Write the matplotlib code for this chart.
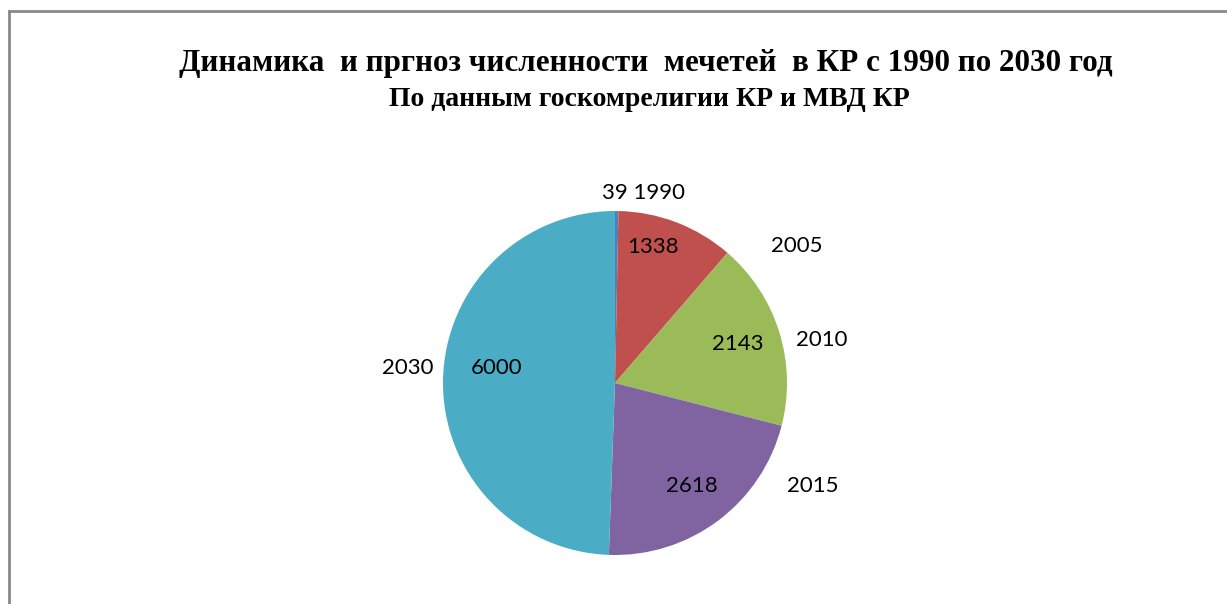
import matplotlib
matplotlib.use("Agg")
import matplotlib.pyplot as plt
from matplotlib.lines import Line2D

# ---- data ----
years = ["1990", "2005", "2010", "2015", "2030"]
mosques = [39, 1338, 2143, 2618, 6000]
colors = ["#4F81BD", "#C0504D", "#9BBB59", "#8064A2", "#4BACC6"]

title = "Динамика  и пргноз численности  мечетей  в КР с 1990 по 2030 год"
subtitle = "По данным госкомрелигии КР и МВД КР"

# ---- layout (category label positions, in pie-radius units) ----
cat_label_pos = [(0.163, 1.105), (1.058, 0.797), (1.203, 0.250),
                 (1.151, -0.599), (-1.203, 0.087)]

W, H = 1227, 604
fig = plt.figure(figsize=(W / 100, H / 100), dpi=100)
fig.patch.set_facecolor("white")

# frame lines (top and left)
fig.add_artist(Line2D([8.5 / W, 8.5 / W], [0, 1 - 11 / H], transform=fig.transFigure,
                      color="#8a8a8a", lw=2))
fig.add_artist(Line2D([8.5 / W, 1], [1 - 11 / H, 1 - 11 / H], transform=fig.transFigure,
                      color="#8a8a8a", lw=2))

cx, cy, R = 615, 383, 172
ax = fig.add_axes([(cx - R) / W, (H - cy - R) / H, 2 * R / W, 2 * R / H])

total = sum(mosques)

def autopct(p):
    v = round(p * total / 100)
    return "" if v < 100 else f"{v}"

wedges, texts, autotexts = ax.pie(
    mosques, colors=colors, startangle=90, counterclock=False,
    autopct=autopct, pctdistance=0.75, radius=1.0,
    wedgeprops=dict(linewidth=0),
    textprops=dict(fontsize=16, family="Lato", color="black"))
for t in autotexts:
    t.set_ha("center")
    t.set_va("center")
# nudge the large-slice value label slightly toward where the original sits
autotexts[-1].set_position((-0.686, 0.087))
autotexts[1].set_position((0.221, 0.791))
ax.set_xlim(-1, 1)
ax.set_ylim(-1, 1)
ax.set_aspect("equal")

for i, (yr, v) in enumerate(zip(years, mosques)):
    txt = f"{v} {yr}" if v < 100 else yr
    x, y = cat_label_pos[i]
    ax.text(x, y, txt, ha="center", va="center", fontsize=16, family="Lato",
            color="black", clip_on=False)

fig.text(646 / W, 1 - 63 / H, title, ha="center", va="center",
         fontsize=22.4, fontweight="bold", family="Liberation Serif")
fig.text(649 / W, 1 - 100 / H, subtitle, ha="center", va="center",
         fontsize=20, fontweight="bold", family="Liberation Serif")

fig.savefig("out.png", dpi=100, facecolor="white")
